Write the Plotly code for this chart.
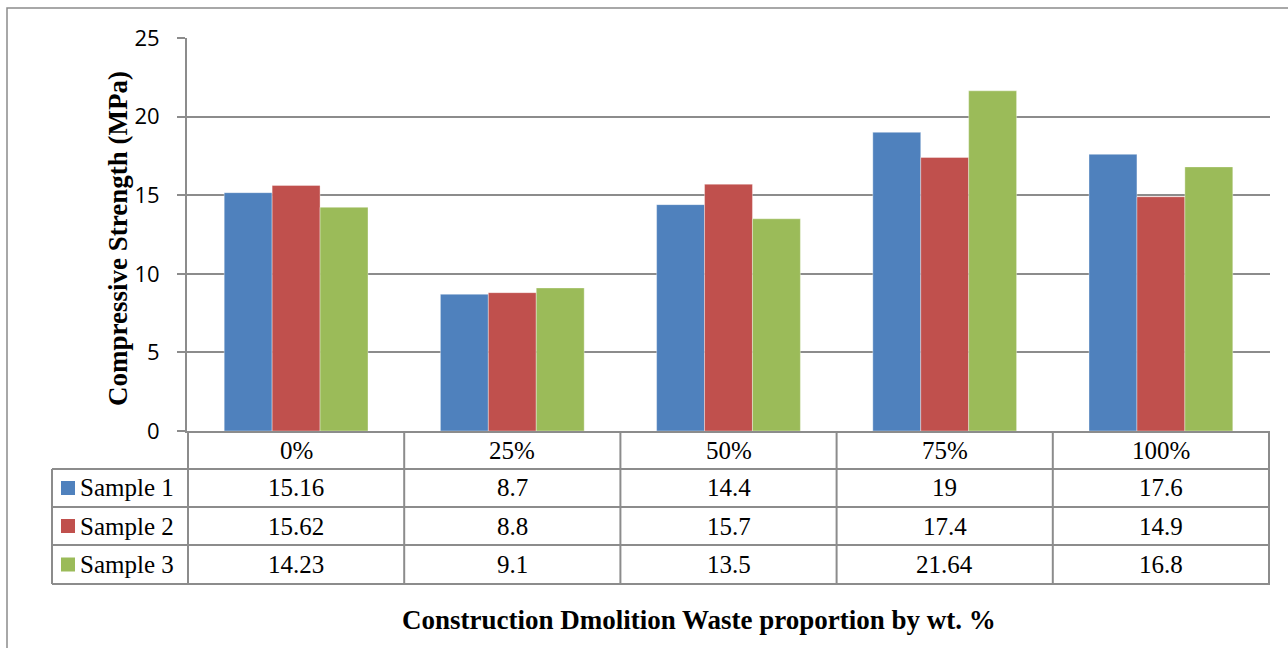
import plotly.graph_objects as go

categories = ["0%", "25%", "50%", "75%", "100%"]
series_names = ["Sample 1", "Sample 2", "Sample 3"]
sample1 = [15.16, 8.7, 14.4, 19, 17.6]
sample2 = [15.62, 8.8, 15.7, 17.4, 14.9]
sample3 = [14.23, 9.1, 13.5, 21.64, 16.8]
series_values = [sample1, sample2, sample3]
series_labels = [["15.16", "8.7", "14.4", "19", "17.6"],
                 ["15.62", "8.8", "15.7", "17.4", "14.9"],
                 ["14.23", "9.1", "13.5", "21.64", "16.8"]]
colors = ["#4F81BD", "#C0504D", "#9BBB59"]

W, H = 1288, 648
L, R, T, B = 187, 18, 38, 217
PW = W - L - R
PH = H - T - B
GRID = "#8C8C8C"
SERIF = "Liberation Serif, Times New Roman, serif"
TFS = 25  # table font size


def px(xp):
    return (xp - L) / PW


def py(yp):
    return (H - B - yp) / PH


fig = go.Figure()
for name, vals, col in zip(series_names, series_values, colors):
    fig.add_trace(go.Bar(x=categories, y=vals, name=name,
                         marker=dict(color=col, line=dict(width=0.6, color="rgba(255,255,255,0.6)"))))

shapes = []
annotations = []

row_edges = [431, 469, 507, 545, 584]
for yp in row_edges[1:]:
    shapes.append(dict(type="line", xref="paper", yref="paper",
                       x0=px(52), x1=1, y0=py(yp), y1=py(yp),
                       line=dict(color=GRID, width=2)))
n = len(categories)
for k in range(n + 1):
    shapes.append(dict(type="line", xref="x", yref="paper",
                       x0=k - 0.5, x1=k - 0.5, y0=0, y1=py(584),
                       line=dict(color=GRID, width=2)))
shapes.append(dict(type="line", xref="paper", yref="paper",
                   x0=px(52), x1=px(52), y0=py(469), y1=py(584),
                   line=dict(color=GRID, width=2)))
shapes.append(dict(type="rect", xref="paper", yref="paper",
                   x0=px(7), x1=px(1310), y0=py(8), y1=py(670),
                   line=dict(color="#8C8C8C", width=1.5), fillcolor="rgba(0,0,0,0)",
                   layer="below"))

for c in categories:
    annotations.append(dict(x=c, xref="x", y=py(450), yref="paper", text=c,
                            showarrow=False, font=dict(family=SERIF, size=TFS, color="black"),
                            xanchor="center", yanchor="middle"))

row_centers = [488, 526, 564.5]
for r, (name, labels, col) in enumerate(zip(series_names, series_labels, colors)):
    yc = row_centers[r]
    shapes.append(dict(type="rect", xref="paper", yref="paper",
                       x0=px(61), x1=px(75), y0=py(yc - 7), y1=py(yc + 7),
                       fillcolor=col, line=dict(width=0)))
    annotations.append(dict(x=px(78), xref="paper", y=py(yc), yref="paper", text=name,
                            showarrow=False, font=dict(family=SERIF, size=TFS, color="black"),
                            xanchor="left", yanchor="middle"))
    for c, lab in zip(categories, labels):
        annotations.append(dict(x=c, xref="x", y=py(yc), yref="paper", text=lab,
                                showarrow=False, font=dict(family=SERIF, size=TFS, color="black"),
                                xanchor="center", yanchor="middle"))

annotations.append(dict(x=px(118), xref="paper", y=py(239), yref="paper",
                        text="<b>Compressive Strength (MPa)</b>", textangle=-90,
                        showarrow=False, font=dict(family=SERIF, size=27, color="black"),
                        xanchor="center", yanchor="middle"))
annotations.append(dict(x=px(699), xref="paper", y=py(620), yref="paper",
                        text="<b>Construction Dmolition Waste proportion by wt. %</b>",
                        showarrow=False, font=dict(family=SERIF, size=27, color="black"),
                        xanchor="center", yanchor="middle"))

fig.update_layout(
    width=W, height=H,
    margin=dict(l=L, r=R, t=T, b=B),
    paper_bgcolor="white", plot_bgcolor="white",
    barmode="group", bargap=0.335, bargroupgap=0,
    showlegend=False,
    shapes=shapes, annotations=annotations,
    xaxis=dict(showticklabels=False, ticks="", showgrid=False,
               showline=True, linecolor=GRID, linewidth=2, zeroline=False),
    yaxis=dict(range=[0, 25], dtick=5, showgrid=True, gridcolor=GRID, gridwidth=2,
               showline=True, linecolor=GRID, linewidth=2, zeroline=False,
               ticks="outside", ticklen=8, tickwidth=2, tickcolor=GRID,
               ticklabelstandoff=13,
               tickfont=dict(family="Open Sans, Liberation Sans, sans-serif", size=22, color="black")),
)

fig.write_html("out.html")
